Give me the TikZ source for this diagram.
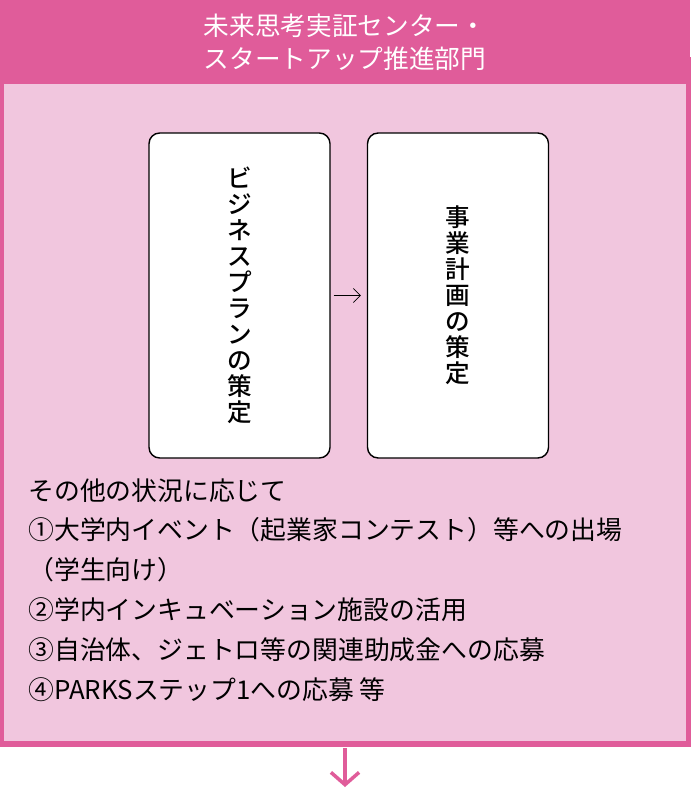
\documentclass[tikz,border=0pt]{standalone}
\usepackage{fontspec}
\setmainfont{Noto Sans CJK JP}
\newfontfamily\medfont{Noto Sans CJK JP Medium}
\usetikzlibrary{arrows.meta,calc}
\definecolor{headpink}{HTML}{E05C9A}
\definecolor{panelpink}{HTML}{F1C6DE}

\begin{document}
\begin{tikzpicture}
  [x=0.02cm, y=-0.02cm,
   stepbox/.style={draw=black, thick, fill=white, rounded corners=6pt,
                   minimum width=3.62cm, minimum height=6.5cm, inner sep=0,
                   align=center, font=\medfont\fontsize{14}{14.8}\selectfont},
   listline/.style={anchor=west, inner sep=0, font=\fontsize{14.7}{17}\selectfont}]

  \useasboundingbox (0,0) rectangle (690,790);

  % panel and header
  \fill[panelpink, draw=headpink, line width=3pt] (1.5,60) rectangle (688.5,744);
  \fill[headpink] (0,0) rectangle (690,84);
  \node[text=white, align=center, font=\fontsize{14.6}{19}\selectfont] (head) at (345,42)
    {未来思考実証センター・\\スタートアップ推進部門};

  % two steps
  \node[stepbox] (plan) at (239.5,295.5)
    {ビ\\ジ\\ネ\\ス\\プ\\ラ\\ン\\の\\策\\定};
  \node[stepbox] (jigyo) at (458,295.5)
    {事\\業\\計\\画\\の\\策\\定};
  \draw[-{Straight Barb[length=4pt]}, thin] ($(plan.east)+(3,0)$)
    -- ($(jigyo.west)+(-6,0)$);

  % list
  \node[listline] (l0) at (28,491) {その他の状況に応じて};
  \node[listline] (l1) at (28,530) {①大学内イベント（起業家コンテスト）等への出場};
  \node[listline] (l2) at (28,570) {（学生向け）};
  \node[listline] (l3) at (28,610) {②学内インキュベーション施設の活用};
  \node[listline] (l4) at (28,650) {③自治体、ジェトロ等の関連助成金への応募};
  \node[listline] (l5) at (28,690) {④PARKSステップ1への応募 等};

  % down arrow
  \coordinate (d1) at (345,748);
  \coordinate (d2) at (345,787);
  \draw[headpink, line width=2pt, -{Straight Barb[length=7pt, width=16pt]}] (d1) -- (d2);
\end{tikzpicture}
\end{document}
